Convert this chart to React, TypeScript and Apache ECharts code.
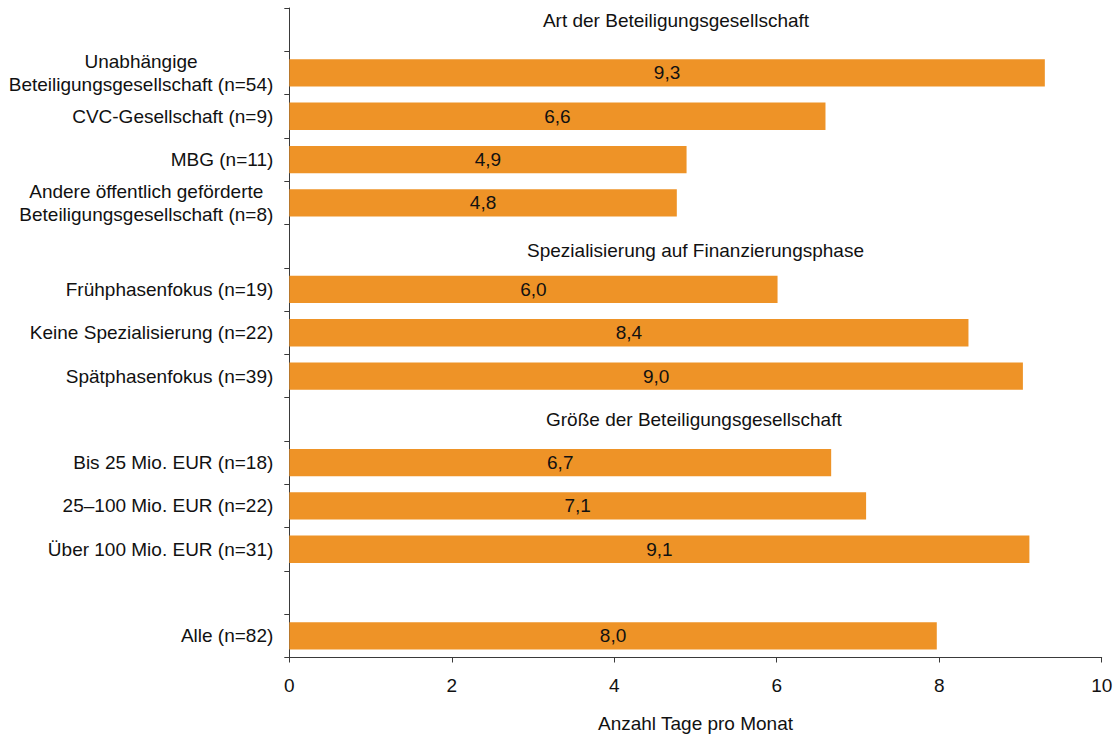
import React, { useEffect, useRef } from "react";
import * as echarts from "echarts";

const rowLabels = [
  "",
  "Unabhängige\nBeteiligungsgesellschaft (n=54)",
  "CVC-Gesellschaft (n=9)",
  "MBG (n=11)",
  "Andere öffentlich geförderte\nBeteiligungsgesellschaft (n=8)",
  " ",
  "Frühphasenfokus (n=19)",
  "Keine Spezialisierung (n=22)",
  "Spätphasenfokus (n=39)",
  "  ",
  "Bis 25 Mio. EUR (n=18)",
  "25–100 Mio. EUR (n=22)",
  "Über 100 Mio. EUR (n=31)",
  "   ",
  "Alle (n=82)",
];

const barValues: (number | null)[] = [
  null, 9.3, 6.6, 4.89, 4.77,
  null, 6.01, 8.36, 9.03,
  null, 6.67, 7.1, 9.11,
  null, 7.97,
];

const headerTitles = [
  "Art der Beteiligungsgesellschaft",
  "Spezialisierung auf Finanzierungsphase",
  "Größe der Beteiligungsgesellschaft",
];
const headerRows = [0, 5, 9];
const headerX = [4.76, 5.0, 4.98];
const headerOffsetY = [-9, 4, 0];

const xTicks = [0, 2, 4, 6, 8, 10];
const axisTitle = "Anzahl Tage pro Monat";

const FONT = "'Liberation Sans', Arial, sans-serif";
const FS = 19;
const TEXT = "#111111";
const AXIS = "#3a3a3a";

export default function App() {
  const ref = useRef<HTMLDivElement>(null);
  useEffect(() => {
    if (!ref.current) return;
    const chart = echarts.init(ref.current, undefined, { renderer: "svg" });
    chart.setOption({
      animation: false,
      grid: {
        left: 289.3,
        right: 13.3,
        top: 8,
        bottom: 77.5,
        containLabel: false,
        outerBoundsMode: "none",
      },
      xAxis: {
        type: "value",
        min: xTicks[0],
        max: xTicks[xTicks.length - 1],
        interval: 2,
        name: axisTitle,
        nameLocation: "middle",
        nameGap: 56,
        nameTextStyle: { fontFamily: FONT, fontSize: FS, color: TEXT },
        splitLine: { show: false },
        axisLine: { show: true, lineStyle: { color: AXIS, width: 1 } },
        axisTick: { show: true, length: 5, lineStyle: { color: AXIS } },
        axisLabel: { fontFamily: FONT, fontSize: FS, color: TEXT, margin: 18 },
      },
      yAxis: {
        type: "category",
        inverse: true,
        data: rowLabels,
        axisLine: { show: true, lineStyle: { color: AXIS, width: 1 } },
        axisTick: { show: true, length: 5, lineStyle: { color: AXIS } },
        axisLabel: {
          margin: 16,
          interval: 0,
          fontFamily: FONT,
          fontSize: FS,
          color: TEXT,
          lineHeight: 23,
          formatter: (v: string) =>
            v.trim() === ""
              ? ""
              : v
                  .split("\n")
                  .map((l) => `{c|${l}}`)
                  .join("\n"),
          rich: {
            c: { align: "center", fontFamily: FONT, fontSize: FS, color: TEXT, lineHeight: 23 },
          },
        },
      },
      series: [
        {
          type: "bar",
          data: barValues,
          barCategoryGap: "37%",
          itemStyle: { color: "#EE9327" },
          label: {
            show: true,
            position: "inside",
            fontFamily: FONT,
            fontSize: FS,
            color: TEXT,
            formatter: (p: any) =>
              p.value == null ? "" : Number(p.value).toFixed(1).replace(".", ","),
          },
        },
        {
          type: "scatter",
          symbolSize: 0,
          silent: true,
          itemStyle: { opacity: 1 },
          data: headerRows.map((r, i) => ({
            value: [headerX[i], r],
            label: { offset: [0, headerOffsetY[i]] },
          })),
          label: {
            show: true,
            position: "inside",
            fontFamily: FONT,
            fontSize: FS,
            color: TEXT,
            opacity: 1,
            formatter: (p: any) => headerTitles[p.dataIndex],
          },
        },
      ],
    });
    return () => chart.dispose();
  }, []);
  return (
    <div
      ref={ref}
      style={{ position: "fixed", left: 0, top: 0, width: 1115, height: 735, background: "#fff" }}
    />
  );
}
